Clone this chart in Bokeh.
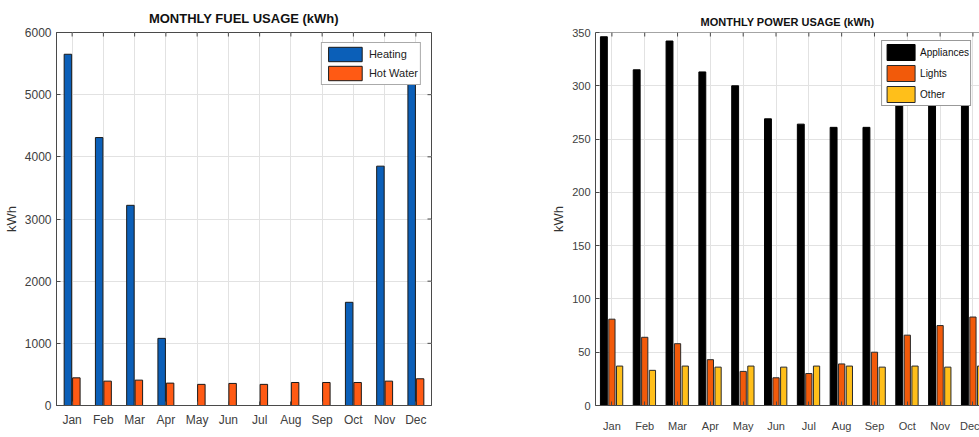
import numpy as np
from bokeh.plotting import figure
from bokeh.models import Range1d, FixedTicker, Legend, LegendItem
from bokeh.layouts import row
from bokeh.embed import file_html
from bokeh.resources import INLINE

months = ["Jan", "Feb", "Mar", "Apr", "May", "Jun", "Jul", "Aug", "Sep", "Oct", "Nov", "Dec"]
heating = [5650, 4310, 3220, 1080, 0, 0, 0, 0, 0, 1660, 3850, 5500]
hot_water = [445, 392, 408, 360, 340, 355, 340, 370, 370, 370, 392, 430]
fuel_ticks = [0, 1000, 2000, 3000, 4000, 5000, 6000]

appliances = [346, 315, 342, 313, 300, 269, 264, 261, 261, 287, 300, 330]
lights = [81, 64, 58, 43, 32, 26, 30, 39, 50, 66, 75, 83]
other = [37, 33, 37, 36, 37, 36, 37, 37, 36, 37, 36, 37]
power_ticks = [0, 50, 100, 150, 200, 250, 300, 350]

x = np.arange(1, len(months) + 1)
overrides = {int(i): m for i, m in zip(x, months)}

FONT = "Liberation Sans, Arial, Helvetica, sans-serif"
AX = "#4a4a4a"
GRID = "#e2e2e2"


def style(p, tick_size, yticks, xstand):
    p.xaxis.ticker = FixedTicker(ticks=list(x))
    p.xaxis.major_label_overrides = overrides
    p.yaxis.ticker = FixedTicker(ticks=yticks)
    for ax in p.xaxis + p.yaxis:
        ax.major_tick_in = 4
        ax.major_tick_out = 0
        ax.minor_tick_line_color = None
        ax.axis_line_color = AX
        ax.major_tick_line_color = AX
        ax.major_label_text_font = FONT
        ax.major_label_text_font_size = tick_size
        ax.major_label_text_color = "#404040"
        ax.axis_label_text_font = FONT
        ax.axis_label_text_font_size = "13px"
        ax.axis_label_text_font_style = "normal"
        ax.axis_label_text_color = "#333333"
    p.xaxis.major_label_standoff = xstand
    p.yaxis.major_label_standoff = 5
    p.yaxis.axis_label_standoff = 3
    p.xgrid.ticker = FixedTicker(ticks=list(x))
    p.ygrid.ticker = FixedTicker(ticks=yticks)
    p.grid.grid_line_color = GRID
    p.grid.grid_line_width = 1
    p.background_fill_color = "white"
    p.border_fill_color = "white"


def box_ticks(p, yticks, top_y, right_x=None):
    # inward tick marks on the top (and right) edges of the axes box
    p.ray(x=x, y=[top_y] * len(x), length=4, length_units="screen",
          angle=-np.pi / 2, line_color=AX, line_width=1)
    if right_x is not None:
        p.ray(x=[right_x] * len(yticks), y=yticks, length=4, length_units="screen",
              angle=np.pi, line_color=AX, line_width=1)


# ---------- Left chart ----------
p1 = figure(width=548, height=437, output_backend="svg", toolbar_location=None,
            x_range=Range1d(0.5, 12.5), y_range=Range1d(0, 6000),
            min_border_left=56, min_border_right=117, min_border_top=32, min_border_bottom=32)
p1.title.text = "MONTHLY FUEL USAGE (kWh)"
p1.title.align = "center"
p1.title.text_font = FONT
p1.title.text_font_size = "13px"
p1.title.text_font_style = "bold"
p1.title.text_color = "#111111"
p1.title.standoff = 13
p1.outline_line_color = AX
style(p1, "12px", fuel_ticks, 7)
p1.yaxis.axis_label = "kWh"
box_ticks(p1, fuel_ticks, fuel_ticks[-1], 12.5)

r_heat = p1.vbar(x=x - 0.135, top=heating, width=0.24, fill_color="#0b5fb8",
                 line_color="#1a1a1a", line_width=1)
r_hot = p1.vbar(x=x + 0.135, top=hot_water, width=0.24, fill_color="#ff5a14",
                line_color="#1a1a1a", line_width=1)
leg1 = Legend(items=[LegendItem(label="Heating", renderers=[r_heat]),
                     LegendItem(label="Hot Water", renderers=[r_hot])],
              location="top_right", margin=10, padding=2, spacing=1,
              glyph_width=42, glyph_height=18, label_height=18, label_standoff=3,
              label_text_font=FONT, label_text_font_size="11px", label_text_color="#222222",
              border_line_color="#555555", border_line_width=1, background_fill_alpha=1)
p1.add_layout(leg1)

# ---------- Right chart ----------
p2 = figure(width=431, height=437, output_backend="svg", toolbar_location=None,
            x_range=Range1d(0.5, 12.2), y_range=Range1d(0, 350),
            min_border_left=41, min_border_right=0, min_border_top=32, min_border_bottom=32)
p2.title.text = "MONTHLY POWER USAGE (kWh)"
p2.title.align = "center"
p2.title.text_font = FONT
p2.title.text_font_size = "11px"
p2.title.text_font_style = "bold"
p2.title.text_color = "#111111"
p2.title.standoff = 10
p2.outline_line_color = None
style(p2, "11px", power_ticks, 14)
p2.yaxis.axis_label = "kWh"
box_ticks(p2, power_ticks, power_ticks[-1])
p2.segment(x0=[0.5], x1=[12.2], y0=[power_ticks[-1]], y1=[power_ticks[-1]],
           line_color=AX, line_width=1)

r_app = p2.vbar(x=x - 0.245, top=appliances, width=0.21, fill_color="#000000",
                line_color="#000000", line_width=1)
r_li = p2.vbar(x=x, top=lights, width=0.19, fill_color="#f25a0a",
               line_color="#2a2a2a", line_width=1)
r_ot = p2.vbar(x=x + 0.235, top=other, width=0.19, fill_color="#ffbf1a",
               line_color="#2a2a2a", line_width=1)
leg2 = Legend(items=[LegendItem(label="Appliances", renderers=[r_app]),
                     LegendItem(label="Lights", renderers=[r_li]),
                     LegendItem(label="Other", renderers=[r_ot])],
              location="top_right", margin=8, padding=1, spacing=1,
              glyph_width=35, glyph_height=20, label_height=20, label_standoff=2,
              label_text_font=FONT, label_text_font_size="10px", label_text_color="#111111",
              border_line_color="#333333", border_line_width=1, background_fill_alpha=1)
p2.add_layout(leg2)

layout = row(p1, p2)
open("out.html", "w").write(file_html(layout, INLINE))
